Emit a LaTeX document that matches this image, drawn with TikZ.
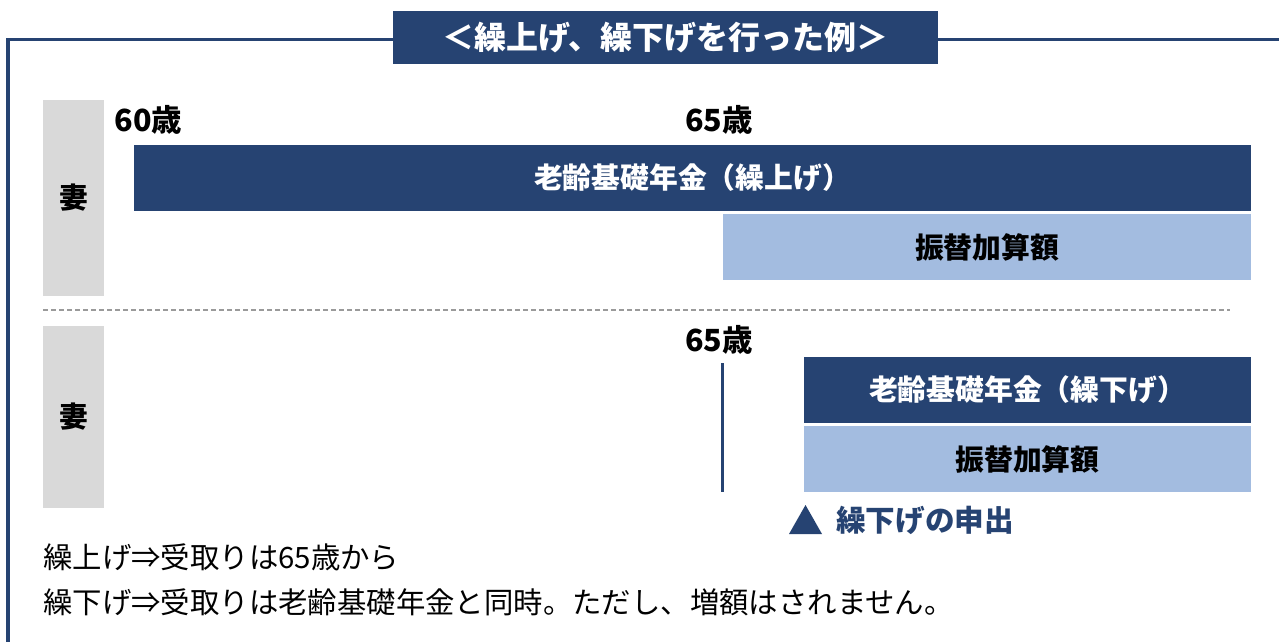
\documentclass[tikz,border=0pt]{standalone}
\usepackage{fontspec}
\setmainfont{Noto Sans CJK JP}
\definecolor{navy}{HTML}{264372}
\definecolor{lightblue}{HTML}{A3BCE0}
\definecolor{graybox}{HTML}{D9D9D9}
\definecolor{dashgray}{HTML}{9A9A9A}
\begin{document}
\begin{tikzpicture}[x=1pt,y=-1pt,
  lbl/.style={font=\fontsize{28.8}{30}\selectfont\bfseries, inner sep=0pt},
  darkbar/.style={lbl, fill=navy, text=white, minimum height=66pt},
  lightbar/.style={lbl, fill=lightblue, text=black, minimum height=66pt},
  graycol/.style={lbl, fill=graybox, text=black, minimum width=61pt},
  age/.style={font=\fontsize{30.5}{32}\selectfont\bfseries, inner sep=0pt},
  note/.style={font=\fontsize{29.4}{31}\selectfont, inner sep=0pt, anchor=west},
]
\useasboundingbox (0,0) rectangle (1279,642);
% frame
\draw[navy, line width=3.5pt] (8,642) -- (8,39.5) -- (1279,39.5);
\node[fill=navy, text=white, minimum width=545pt, minimum height=53pt, inner sep=0pt,
      font=\fontsize{32}{34}\selectfont\bfseries] (title) at (665.5,37.5) {＜繰上げ、繰下げを行った例＞};
% upper part
\node[graycol, minimum height=196pt] (wife1) at (73.5,198) {妻};
\node[age] (age60) at (148.5,120) {60歳};
\node[age] (age65a) at (719,120) {65歳};
\node[darkbar, minimum width=1117pt] (kuriage) at (692.5,178) {老齢基礎年金（繰上げ）};
\node[lightbar, minimum width=528pt] (furikae1) at (987,247) {振替加算額};
% separator
\coordinate (sepL) at (43,310);
\coordinate (sepR) at (1230,310);
\draw[dashgray, line width=1.3pt, dash pattern=on 5pt off 3pt] (sepL) -- (sepR);
% lower part
\node[graycol, minimum height=182pt] (wife2) at (73.5,417) {妻};
\node[age] (age65b) at (719,340) {65歳};
\coordinate (vtop) at (722,363);
\coordinate (vbot) at (722,492);
\draw[navy, line width=3pt] (vtop) -- (vbot);
\node[darkbar, minimum width=447pt] (kurisage) at (1027.5,390) {老齢基礎年金（繰下げ）};
\node[lightbar, minimum width=447pt] (furikae2) at (1027.5,459) {振替加算額};
% request marker
\fill[navy] (789,534) -- (805.5,505) -- (822,534) -- cycle;
\node[lbl, text=navy, anchor=west, font=\fontsize{29.6}{31}\selectfont\bfseries] (request) at (836,520) {繰下げの申出};
% notes
\node[note] (note1) at (43,557) {繰上げ⇒受取りは65歳から};
\node[note] (note2) at (43,602) {繰下げ⇒受取りは老齢基礎年金と同時。ただし、増額はされません。};
\end{tikzpicture}
\end{document}
